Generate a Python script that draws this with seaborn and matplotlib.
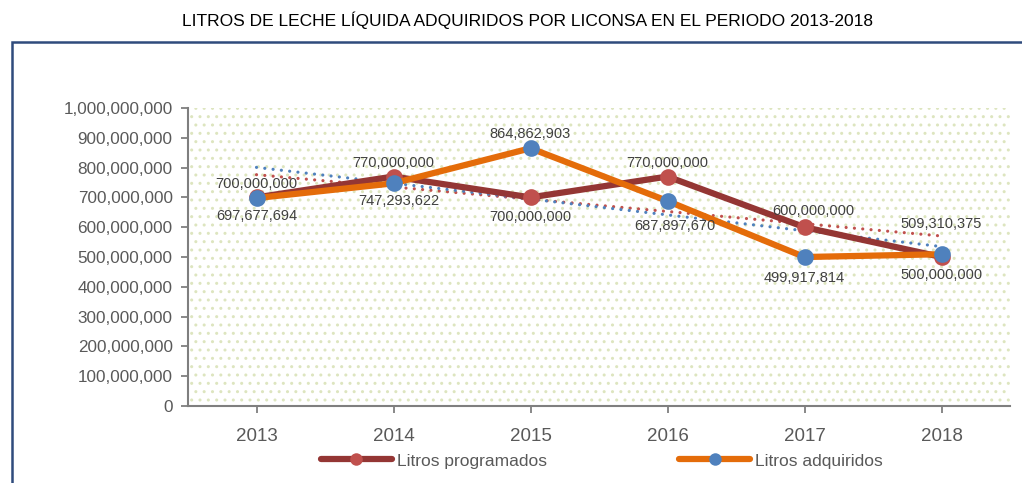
import numpy as np
import pandas as pd
import matplotlib
matplotlib.use("Agg")
import matplotlib.pyplot as plt
from matplotlib.patches import Rectangle
from matplotlib.lines import Line2D
import seaborn as sns

years = [2013, 2014, 2015, 2016, 2017, 2018]
programados = [700000000, 770000000, 700000000, 770000000, 600000000, 500000000]
adquiridos = [697677694, 747293622, 864862903, 687897670, 499917814, 509310375]
series_names = ["Litros programados", "Litros adquiridos"]
title = "LITROS DE LECHE LÍQUIDA ADQUIRIDOS POR LICONSA EN EL PERIODO 2013-2018"
yticks = list(range(0, 1000000001, 100000000))

# styles
LINE_COLORS = ["#943634", "#E46C0A"]
MARK_COLORS = ["#C0504D", "#4F81BD"]
TEXT = "#404040"
AXIS = "#7f7f7f"
# label offsets in points (dx, dy)
off_prog = [(0, 9.5), (0, 9.5), (0, -14), (0, 9.5), (6, 12), (0, -13)]
off_adq = [(0, -13), (4, -13), (0, 10), (5, -18), (0, -15), (0, 22)]

sns.set_theme(style="white")
plt.rcParams["font.family"] = ["Liberation Sans", "DejaVu Sans"]
plt.rcParams["hatch.color"] = "#dde5bf"
plt.rcParams["hatch.linewidth"] = 1.0

fig = plt.figure(figsize=(10.22, 4.83), dpi=100)
ax = fig.add_axes([188 / 1022, 1 - 406 / 483, (1010 - 188) / 1022, (406 - 108) / 483])

# background dotted pattern
ax.patch.set_facecolor("white")
ax.patch.set_hatch("..")
ax.patch.set_edgecolor("#dde5bf")
ax.patch.set_linewidth(0)

df = pd.DataFrame({"year": years, "prog": programados, "adq": adquiridos})

# trend lines (linear fits)
xs = np.array(years, dtype=float)
for col, mc in zip(["prog", "adq"], MARK_COLORS):
    coef = np.polyfit(xs, df[col].values, 1)
    ax.plot(xs, np.polyval(coef, xs), linestyle=(0, (0.01, 2.6)), color=mc,
            linewidth=2.3, dash_capstyle="round", zorder=2)

for col, lc, mc, z in zip(["prog", "adq"], LINE_COLORS, MARK_COLORS, [3, 4]):
    sns.lineplot(data=df, x="year", y=col, ax=ax, color=lc, linewidth=4.5,
                 marker="o", markersize=12, markerfacecolor=mc,
                 markeredgecolor=mc, markeredgewidth=0, zorder=z,
                 solid_capstyle="round")

for x, y, o in zip(years, programados, off_prog):
    ax.annotate(f"{y:,}", (x, y), xytext=o, textcoords="offset points",
                ha="center", va="center", fontsize=10.5, color=TEXT, zorder=6)
for x, y, o in zip(years, adquiridos, off_adq):
    ax.annotate(f"{y:,}", (x, y), xytext=o, textcoords="offset points",
                ha="center", va="center", fontsize=10.5, color=TEXT, zorder=6)

ax.set_xlim(2012.5, 2018.5)
ax.set_ylim(0, 1000000000)
ax.set_xticks(years)
ax.set_xticklabels([str(y) for y in years])
ax.set_yticks(yticks)
ax.set_yticklabels([f"{v:,}" for v in yticks])
ax.set_xlabel("")
ax.set_ylabel("")
for s in ["top", "right"]:
    ax.spines[s].set_visible(False)
for s in ["left", "bottom"]:
    ax.spines[s].set_color(AXIS)
    ax.spines[s].set_linewidth(1.5)
ax.tick_params(axis="y", labelsize=12.3, colors=AXIS, labelcolor="#595959",
               length=5, width=1.3, direction="out", left=True, pad=6)
ax.tick_params(axis="x", labelsize=13.5, colors=AXIS, labelcolor="#595959",
               length=5, width=1.3, direction="out", bottom=True, pad=11)
ax.grid(False)

handles = [Line2D([], [], color=lc, linewidth=4.5, marker="o", markersize=9,
                  markerfacecolor=mc, markeredgewidth=0, solid_capstyle="round")
           for lc, mc in zip(LINE_COLORS, MARK_COLORS)]
fig.legend(handles, series_names, loc="center", bbox_to_anchor=(602 / 1022, 1 - 461 / 483),
           ncol=2, frameon=False, fontsize=12.5, handlelength=4.1, columnspacing=7.6,
           handletextpad=0.3, labelcolor="#595959")

fig.text(528 / 1022, 1 - 20 / 483, title, ha="center", va="center", fontsize=12.5, color="black")

border = Rectangle((12 / 1022, -0.2), 1.2, 1 - 42 / 483 + 0.2, transform=fig.transFigure,
                   fill=False, edgecolor="#2f4b7c", linewidth=1.8, clip_on=False)
fig.add_artist(border)

fig.savefig("out.png", dpi=100)
